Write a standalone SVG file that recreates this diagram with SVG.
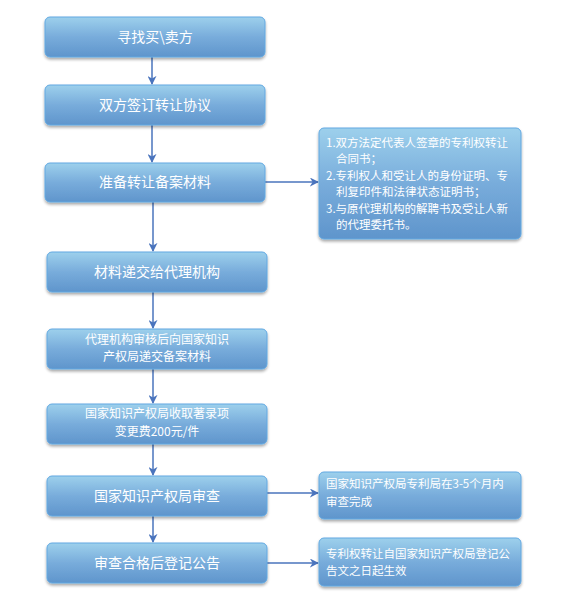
<svg xmlns="http://www.w3.org/2000/svg" width="565" height="615" viewBox="0 0 565 615">
<defs>
<linearGradient id="g" x1="0" y1="0" x2="0" y2="1">
<stop offset="0" stop-color="#9dd0ec"/>
<stop offset="0.5" stop-color="#78acdb"/>
<stop offset="1" stop-color="#5f95cc"/>
</linearGradient>
<filter id="sh" x="-10%" y="-10%" width="120%" height="140%">
<feGaussianBlur in="SourceAlpha" stdDeviation="1.5"/>
<feOffset dx="0" dy="2" result="b"/>
<feComponentTransfer><feFuncA type="linear" slope="0.35"/></feComponentTransfer>
<feMerge><feMergeNode/><feMergeNode in="SourceGraphic"/></feMerge>
</filter>
<marker id="ah" viewBox="0 0 10 10" refX="9" refY="5" markerWidth="9" markerHeight="9" markerUnits="userSpaceOnUse" orient="auto">
<path d="M0,0 L10,5 L0,10 L3,5 Z" fill="#4a74bd"/>
</marker>
</defs>
<style>
.box{fill:url(#g);stroke:#62a9e2;stroke-width:1;filter:url(#sh)}
.t{font-family:"Noto Sans CJK SC","Liberation Sans",sans-serif;fill:#ffffff;text-anchor:middle}
.m{font-size:14px}
.s{font-size:12px}
.r{font-family:"Noto Sans CJK SC","Liberation Sans",sans-serif;fill:#ffffff;font-size:11.5px}
.c{stroke:#4a74bd;stroke-width:1.5;fill:none;marker-end:url(#ah)}
</style>
<rect width="565" height="615" fill="#ffffff"/>
<g id="connectors">
<line class="c" x1="152" y1="57" x2="152" y2="84"/>
<line class="c" x1="152" y1="125" x2="152" y2="162"/>
<line class="c" x1="153" y1="202" x2="153" y2="251"/>
<line class="c" x1="153" y1="292" x2="153" y2="328"/>
<line class="c" x1="153" y1="369" x2="153" y2="403"/>
<line class="c" x1="153" y1="444" x2="153" y2="475"/>
<line class="c" x1="153" y1="516" x2="153" y2="542"/>
<line class="c" x1="265" y1="182" x2="318" y2="182"/>
<line class="c" x1="267" y1="493" x2="318" y2="493"/>
<line class="c" x1="267" y1="563" x2="318" y2="563"/>
</g>
<g id="n1"><rect class="box" x="45" y="17" width="220" height="40" rx="5"/><text class="t m" x="155" y="42">寻找买\卖方</text></g>
<g id="n2"><rect class="box" x="45" y="85" width="220" height="40" rx="5"/><text class="t m" x="155" y="110">双方签订转让协议</text></g>
<g id="n3"><rect class="box" x="45" y="163" width="220" height="39" rx="5"/><text class="t m" x="155" y="187">准备转让备案材料</text></g>
<g id="n4"><rect class="box" x="47" y="252" width="220" height="40" rx="5"/><text class="t m" x="157" y="277">材料递交给代理机构</text></g>
<g id="n5"><rect class="box" x="47" y="329" width="220" height="40" rx="5"/><text class="t s" x="157" y="344">代理机构审核后向国家知识</text><text class="t s" x="157" y="361">产权局递交备案材料</text></g>
<g id="n6"><rect class="box" x="47" y="404" width="220" height="40" rx="5"/><text class="t s" x="157" y="418">国家知识产权局收取著录项</text><text class="t s" x="157" y="436">变更费200元/件</text></g>
<g id="n7"><rect class="box" x="47" y="476" width="220" height="40" rx="5"/><text class="t m" x="157" y="501">国家知识产权局审查</text></g>
<g id="n8"><rect class="box" x="47" y="543" width="220" height="40" rx="5"/><text class="t m" x="157" y="568">审查合格后登记公告</text></g>
<g id="r3"><rect class="box" x="319" y="128" width="202" height="111" rx="5"/>
<text class="r" x="326" y="147">1.双方法定代表人签章的专利权转让</text>
<text class="r" x="336" y="163">合同书；</text>
<text class="r" x="326" y="180">2.专利权人和受让人的身份证明、专</text>
<text class="r" x="336" y="196">利复印件和法律状态证明书；</text>
<text class="r" x="326" y="213">3.与原代理机构的解聘书及受让人新</text>
<text class="r" x="336" y="229">的代理委托书。</text>
</g>
<g id="r7"><rect class="box" x="319" y="472" width="202" height="47" rx="5"/>
<text class="r" x="326" y="488">国家知识产权局专利局在3-5个月内</text>
<text class="r" x="326" y="506">审查完成</text>
</g>
<g id="r8"><rect class="box" x="319" y="538" width="202" height="48" rx="5"/>
<text class="r" x="326" y="558">专利权转让自国家知识产权局登记公</text>
<text class="r" x="326" y="575">告文之日起生效</text>
</g>
</svg>
